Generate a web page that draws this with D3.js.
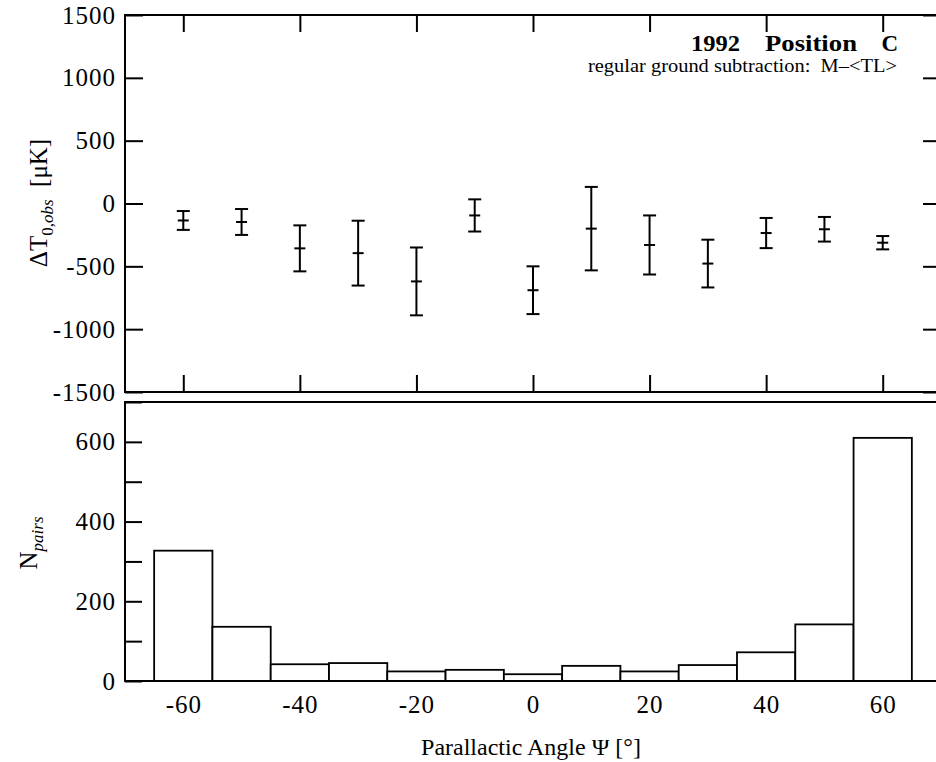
<!DOCTYPE html>
<html>
<head>
<meta charset="utf-8">
<script src="https://cdn.jsdelivr.net/npm/d3@7/dist/d3.min.js"></script>
<style>
  html, body { margin: 0; padding: 0; background: #fff; }
  svg { display: block; font-family: "Liberation Serif", "Times New Roman", serif; }
</style>
</head>
<body>
<svg id="chart" width="936" height="762"></svg>
<script>
// ---- data ----
const psi = [-60, -50, -40, -30, -20, -10, 0, 10, 20, 30, 40, 50, 60];
const deltaT = [-135, -147, -357, -395, -620, -95, -690, -200, -330, -478, -235, -205, -312];
const deltaTerr = [75, 103, 183, 258, 270, 128, 190, 332, 235, 190, 120, 98, 53];
const nPairs = [327, 136, 42, 45, 24, 28, 17, 38, 24, 40, 72, 142, 610];
const binWidth = 10;
const xTickValues = [-60, -40, -20, 0, 20, 40, 60];
const yTopTickValues = [-1500, -1000, -500, 0, 500, 1000, 1500];
const yBotTickValues = [0, 100, 200, 300, 400, 500, 600, 700];
const yBotLabelValues = [0, 200, 400, 600];
const titleBold = ["1992", "Position", "C"];
const subtitle = "regular ground subtraction:  M\u2013<TL>";
const xTitle = "Parallactic Angle \u03A8 [\u00B0]";

// ---- layout ----
const L = 125, R = 941;
const topT = 15, topB = 392;
const botT = 402, botB = 681;
const SERIF = "'Liberation Serif', 'Times New Roman', serif";

const svg = d3.select("#chart");

const x = d3.scaleLinear().domain([-70, 70]).range([L, R]);
const yTop = d3.scaleLinear().domain([-1500, 1500]).range([topB, topT]);
const yBot = d3.scaleLinear().domain([0, 700]).range([botB, botT]);

const fmt = d => String(d);   // plain hyphen minus like the reference
const tickLen = 17;
function styleAxis(g) {
  g.attr("font-family", SERIF);
  g.select(".domain").remove();
  g.selectAll(".tick line").attr("stroke", "#000").attr("stroke-width", 2);
  g.selectAll(".tick text").attr("fill", "#000").attr("font-size", 25).attr("letter-spacing", "1px");
}

// ---- top panel ----
svg.append("g").attr("transform", `translate(0,${topT})`)
  .call(d3.axisTop(x).tickValues(xTickValues).tickSize(-tickLen).tickFormat(""))
  .call(styleAxis);
svg.append("g").attr("transform", `translate(0,${topB})`)
  .call(d3.axisBottom(x).tickValues(xTickValues).tickSize(-tickLen).tickFormat(""))
  .call(styleAxis);
svg.append("g").attr("transform", `translate(${L},0)`)
  .call(d3.axisLeft(yTop).tickValues(yTopTickValues).tickSize(-18).tickPadding(9).tickFormat(fmt))
  .call(styleAxis);
svg.append("g").attr("transform", `translate(${R},0)`)
  .call(d3.axisRight(yTop).tickValues(yTopTickValues).tickSize(-18).tickFormat(""))
  .call(styleAxis);

svg.append("rect")
  .attr("x", L).attr("y", topT).attr("width", R - L).attr("height", topB - topT)
  .attr("fill", "none").attr("stroke", "#000").attr("stroke-width", 2);

// error bars
const eb = svg.append("g").attr("stroke", "#000").attr("stroke-width", 2);
psi.forEach((p, i) => {
  const cx = x(p);
  const y1 = yTop(deltaT[i] + deltaTerr[i]);
  const y2 = yTop(deltaT[i] - deltaTerr[i]);
  const yc = yTop(deltaT[i]);
  eb.append("line").attr("x1", cx).attr("x2", cx).attr("y1", y1).attr("y2", y2);
  eb.append("line").attr("x1", cx - 6.5).attr("x2", cx + 6.5).attr("y1", y1).attr("y2", y1);
  eb.append("line").attr("x1", cx - 6.5).attr("x2", cx + 6.5).attr("y1", y2).attr("y2", y2);
  eb.append("line").attr("x1", cx - 5.5).attr("x2", cx + 5.5).attr("y1", yc).attr("y2", yc);
});

// annotation
const ann = svg.append("g").attr("font-weight", "bold").attr("font-size", 23).attr("fill", "#000");
ann.append("text").attr("x", 691).attr("y", 51).attr("textLength", 49).attr("lengthAdjust", "spacingAndGlyphs").text(titleBold[0]);
ann.append("text").attr("x", 765).attr("y", 51).attr("textLength", 92).attr("lengthAdjust", "spacingAndGlyphs").text(titleBold[1]);
ann.append("text").attr("x", 898).attr("y", 51).attr("text-anchor", "end").text(titleBold[2]);
svg.append("text").attr("x", 897).attr("y", 72).attr("text-anchor", "end")
  .attr("font-size", 19.5).attr("fill", "#000")
  .attr("textLength", 309).attr("lengthAdjust", "spacingAndGlyphs")
  .style("white-space", "pre").text(subtitle);

// y title top
const yt = svg.append("text")
  .attr("transform", `translate(47,203) rotate(-90)`)
  .attr("text-anchor", "middle").attr("font-size", 25).attr("fill", "#000");
yt.append("tspan").text("\u0394T");
yt.append("tspan").attr("font-size", 17).attr("dy", 6).text("0,");
yt.append("tspan").attr("font-size", 17).attr("font-style", "italic").text("obs");
yt.append("tspan").attr("dy", -6).style("white-space", "pre").text("  [\u03BCK]");

// ---- bottom panel ----
svg.append("g").attr("transform", `translate(${L},0)`)
  .call(d3.axisLeft(yBot).tickValues(yBotTickValues).tickSize(-tickLen).tickPadding(9)
    .tickFormat(d => yBotLabelValues.includes(d) ? fmt(d) : ""))
  .call(styleAxis);
svg.append("g").attr("transform", `translate(0,${botB})`)
  .call(d3.axisBottom(x).tickValues(xTickValues).tickSize(0).tickPadding(14).tickFormat(fmt))
  .call(styleAxis);

svg.append("g").selectAll("rect").data(psi).join("rect")
  .attr("x", d => x(d - binWidth / 2))
  .attr("width", d => x(d + binWidth / 2) - x(d - binWidth / 2))
  .attr("y", (d, i) => yBot(nPairs[i]))
  .attr("height", (d, i) => yBot(0) - yBot(nPairs[i]))
  .attr("fill", "#fff").attr("stroke", "#000").attr("stroke-width", 1.8);

svg.append("rect")
  .attr("x", L).attr("y", botT).attr("width", R - L).attr("height", botB - botT)
  .attr("fill", "none").attr("stroke", "#000").attr("stroke-width", 2);

const yb = svg.append("text")
  .attr("transform", `translate(37,543) rotate(-90)`)
  .attr("text-anchor", "middle").attr("font-size", 25).attr("fill", "#000");
yb.append("tspan").text("N");
yb.append("tspan").attr("font-size", 17).attr("font-style", "italic").attr("dy", 6).text("pairs");

// x title
svg.append("text").attr("x", 531).attr("y", 755).attr("text-anchor", "middle")
  .attr("font-size", 24).attr("fill", "#000").text(xTitle);
</script>
</body>
</html>
